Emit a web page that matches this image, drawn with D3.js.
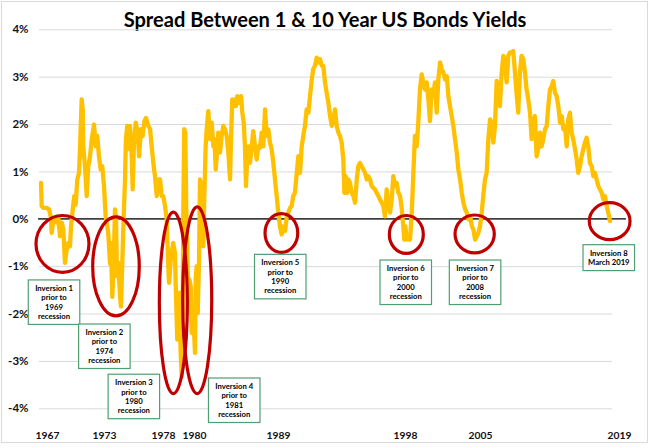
<!DOCTYPE html>
<html>
<head>
<meta charset="utf-8">
<script src="https://cdn.jsdelivr.net/npm/d3@7"></script>
<style>
  body { margin: 0; background: #fff; }
  svg { display: block; font-family: Lato, "Open Sans", sans-serif; }
</style>
</head>
<body>
<div id="chart"></div>
<script>
"use strict";

const chartTitle = "Spread Between 1 & 10 Year US Bonds Yields";

// year labels printed under the chart
const tickYears = [1967, 1973, 1978, 1980, 1989, 1998, 2005, 2019];
const pctTicks = [-4, -3, -2, -1, 0, 1, 2, 3, 4];

// [year, spread in %]
const spreadSeries = [
  [1966.37, 0.76], [1966.44, 0.27], [1966.61, 0.23], [1966.97, 0.23], [1967.21, 0.20],
  [1967.42, 0.02], [1967.49, -0.30], [1967.66, -0.05], [1967.84, 0.02], [1968.02, -0.08],
  [1968.19, 0.02], [1968.37, -0.37], [1968.55, -0.08], [1968.72, -0.23], [1968.89, -0.93],
  [1969.07, -0.65], [1969.24, -0.51], [1969.42, -0.58], [1969.53, -0.16], [1969.71, 0.20],
  [1969.87, 0.48], [1970.02, 0.30], [1970.19, 0.83], [1970.37, 0.97], [1970.47, 1.47],
  [1970.65, 2.52], [1970.76, 2.31], [1970.82, 1.53], [1971.00, 1.11], [1971.18, 0.48],
  [1971.35, 1.11], [1971.53, 1.32], [1971.71, 1.68], [1971.95, 1.99], [1972.13, 1.53],
  [1972.29, 1.75], [1972.47, 1.32], [1972.65, 1.04], [1972.82, 1.11], [1973.00, 0.69],
  [1973.14, 0.05], [1973.23, -0.08], [1973.36, -0.30], [1973.51, -0.95], [1973.59, -0.51],
  [1973.70, -1.65], [1973.82, -1.00], [1973.93, 0.20], [1974.02, -0.01], [1974.10, -1.21],
  [1974.21, -0.93], [1974.36, -1.64], [1974.44, -1.85], [1974.55, -0.93], [1974.67, 0.05],
  [1974.78, 0.83], [1974.86, 1.68], [1974.97, 1.96], [1975.12, 1.47], [1975.20, 1.96],
  [1975.35, 1.32], [1975.43, 0.62], [1975.54, 1.61], [1975.69, 2.03], [1975.86, 1.82],
  [1975.97, 1.32], [1976.14, 1.89], [1976.28, 1.75], [1976.42, 2.06], [1976.56, 2.13],
  [1976.75, 1.96], [1976.90, 1.90], [1977.04, 1.53], [1977.18, 1.18], [1977.32, 0.90],
  [1977.47, 0.48], [1977.61, 0.83], [1977.75, 0.83], [1977.89, 0.48], [1978.02, 0.48],
  [1978.13, 0.27], [1978.24, -0.01], [1978.34, -1.00], [1978.39, -1.35], [1978.52, -0.79],
  [1978.66, -0.51], [1978.77, -0.72], [1978.84, -1.64], [1978.92, -2.55], [1978.99, -1.99],
  [1979.05, -1.56], [1979.14, -2.83], [1979.21, -3.33], [1979.27, -1.99], [1979.31, 0.13],
  [1979.37, 1.89], [1979.44, 1.82], [1979.50, 0.27], [1979.57, -0.58], [1979.63, -1.99],
  [1979.70, -1.28], [1979.79, -1.42], [1979.85, -2.41], [1979.95, -1.99], [1980.11, -2.83],
  [1980.18, -1.28], [1980.29, -1.00], [1980.40, -1.99], [1980.54, -0.86], [1980.64, 0.83],
  [1980.75, 0.69], [1980.89, -0.23], [1981.00, -0.58], [1981.10, 0.41], [1981.25, 1.53],
  [1981.36, 1.89], [1981.53, 2.27], [1981.71, 1.68], [1981.90, 2.03], [1982.07, 1.53],
  [1982.18, 1.68], [1982.33, 1.04], [1982.43, 1.32], [1982.60, 1.82], [1982.79, 1.40],
  [1982.97, 1.75], [1983.14, 1.96], [1983.32, 1.89], [1983.50, 1.75], [1983.68, 1.40],
  [1983.86, 0.83], [1983.96, 1.61], [1984.10, 2.52], [1984.21, 2.38], [1984.39, 2.52],
  [1984.50, 2.38], [1984.64, 2.59], [1984.85, 2.45], [1985.04, 2.59], [1985.18, 2.24],
  [1985.33, 2.03], [1985.46, 1.53], [1985.57, 0.69], [1985.68, 1.18], [1985.82, 1.53],
  [1986.00, 1.18], [1986.18, 1.53], [1986.35, 1.85], [1986.54, 1.53], [1986.72, 1.25],
  [1986.89, 1.53], [1987.07, 1.50], [1987.25, 1.82], [1987.43, 1.53], [1987.61, 2.31],
  [1987.79, 1.75], [1987.96, 1.89], [1988.14, 1.61], [1988.32, 1.47], [1988.50, 1.18],
  [1988.68, 0.83], [1988.86, 0.48], [1989.02, 0.13], [1989.14, -0.16], [1989.26, -0.33],
  [1989.38, -0.16], [1989.50, -0.26], [1989.62, 0.05], [1989.73, 0.13], [1989.85, 0.23],
  [1989.97, 0.27], [1990.08, 0.48], [1990.20, 0.55], [1990.33, 0.97], [1990.44, 1.32],
  [1990.56, 0.97], [1990.68, 1.53], [1990.79, 1.75], [1990.91, 1.96], [1991.03, 2.31],
  [1991.15, 2.24], [1991.27, 2.59], [1991.39, 2.94], [1991.50, 3.16], [1991.62, 3.23],
  [1991.74, 3.40], [1991.86, 3.30], [1991.98, 3.37], [1992.10, 3.23], [1992.21, 3.23],
  [1992.33, 2.88], [1992.45, 2.66], [1992.57, 2.45], [1992.69, 2.17], [1992.81, 1.96],
  [1992.92, 2.10], [1993.04, 2.31], [1993.16, 1.96], [1993.28, 1.82], [1993.39, 1.75],
  [1993.51, 1.61], [1993.63, 1.25], [1993.70, 0.55], [1993.80, 0.90], [1993.89, 0.55],
  [1993.98, 0.83], [1994.10, 0.76], [1994.22, 0.55], [1994.34, 0.48], [1994.46, 0.34],
  [1994.58, 0.83], [1994.69, 1.11], [1994.81, 1.18], [1994.93, 1.11], [1995.05, 1.04],
  [1995.17, 0.97], [1995.29, 0.83], [1995.40, 0.90], [1995.52, 0.83], [1995.64, 0.69],
  [1995.87, 0.62], [1996.11, 0.48], [1996.35, 0.34], [1996.46, 0.27], [1996.58, 0.05],
  [1996.70, 0.62], [1996.82, 0.34], [1996.94, 0.13], [1997.06, 0.41], [1997.17, 0.90],
  [1997.29, 0.69], [1997.41, 0.76], [1997.53, 0.55], [1997.65, 0.48], [1997.77, 0.20],
  [1997.88, -0.16], [1997.95, -0.44], [1998.03, -0.16], [1998.16, -0.44], [1998.31, -0.37],
  [1998.47, -0.44], [1998.63, 0.13], [1998.78, 0.97], [1998.93, 1.75], [1999.09, 1.53],
  [1999.24, 2.03], [1999.40, 2.73], [1999.56, 3.05], [1999.71, 2.88], [1999.87, 2.73],
  [2000.03, 2.88], [2000.18, 2.52], [2000.33, 2.06], [2000.49, 2.73], [2000.64, 2.59],
  [2000.80, 2.88], [2000.96, 2.24], [2001.11, 2.94], [2001.27, 3.30], [2001.43, 3.16],
  [2001.58, 3.09], [2001.74, 2.94], [2001.90, 3.01], [2002.05, 2.59], [2002.20, 2.38],
  [2002.36, 2.17], [2002.51, 1.96], [2002.67, 1.68], [2002.83, 1.40], [2002.98, 1.04],
  [2003.14, 0.83], [2003.30, 0.55], [2003.45, 0.34], [2003.61, 0.20], [2003.77, 0.13],
  [2003.92, -0.01], [2004.08, 0.05], [2004.24, -0.16], [2004.39, -0.23], [2004.54, -0.44],
  [2004.70, -0.37], [2004.84, -0.30], [2005.00, -0.16], [2005.17, 0.13], [2005.33, 0.48],
  [2005.50, 0.83], [2005.67, 0.97], [2005.84, 1.68], [2006.01, 2.10], [2006.18, 2.03],
  [2006.34, 1.61], [2006.51, 1.96], [2006.68, 2.91], [2006.84, 2.59], [2007.01, 2.38],
  [2007.18, 3.09], [2007.35, 3.44], [2007.52, 3.30], [2007.68, 2.88], [2007.85, 3.44],
  [2008.02, 3.51], [2008.19, 3.51], [2008.35, 3.54], [2008.52, 3.09], [2008.68, 2.66],
  [2008.85, 2.24], [2009.02, 3.09], [2009.19, 3.44], [2009.36, 3.37], [2009.53, 3.09],
  [2009.69, 2.73], [2009.86, 2.52], [2010.04, 2.24], [2010.20, 1.68], [2010.36, 1.96],
  [2010.53, 2.17], [2010.70, 1.32], [2010.86, 1.47], [2011.04, 1.82], [2011.21, 1.53],
  [2011.37, 1.68], [2011.55, 1.89], [2011.72, 1.96], [2011.88, 2.38], [2012.05, 2.73],
  [2012.22, 2.80], [2012.38, 2.91], [2012.55, 2.66], [2012.72, 2.59], [2012.89, 2.38],
  [2013.06, 2.03], [2013.23, 2.17], [2013.39, 1.89], [2013.56, 1.96], [2013.73, 1.53],
  [2013.89, 2.10], [2014.06, 2.24], [2014.23, 1.82], [2014.39, 1.68], [2014.57, 1.47],
  [2014.74, 1.25], [2014.89, 0.97], [2015.07, 1.11], [2015.24, 1.32], [2015.40, 1.47],
  [2015.57, 1.61], [2015.74, 1.71], [2015.90, 1.53], [2016.07, 1.18], [2016.25, 1.11],
  [2016.41, 0.90], [2016.58, 0.97], [2016.75, 0.83], [2016.92, 0.69], [2017.09, 0.62],
  [2017.26, 0.55], [2017.42, 0.41], [2017.59, 0.48], [2017.76, 0.27], [2017.92, 0.13],
  [2018.09, -0.05]
];

// inversion episodes: ring spans years from..to and spread high..low,
// note is the text box anchored at [year, spread]
const inversions = [
  { from: 1965.84, to: 1971.42, high: 0.07, low: -1.13, note: [1967.74, -1.76], lines: ["Inversion 1", "prior to", "1969", "recession"] },
  { from: 1971.81, to: 1975.99, high: 0.04, low: -2.05, note: [1973.03, -2.69], lines: ["Inversion 2", "prior to", "1974", "recession"] },
  { from: 1977.69, to: 1979.57, high: 0.14, low: -3.69, note: [1975.53, -3.75], lines: ["Inversion 3", "prior to", "1980", "recession"] },
  { from: 1979.27, to: 1981.90, high: 0.25, low: -3.69, note: [1984.31, -3.83], lines: ["Inversion 4", "prior to", "1981", "recession"] },
  { from: 1987.61, to: 1990.40, high: 0.11, low: -0.71, note: [1989.16, -1.22], lines: ["Inversion 5", "prior to", "1990", "recession"] },
  { from: 1996.89, to: 1999.71, high: 0.07, low: -0.73, note: [1998.07, -1.34], lines: ["Inversion 6", "prior to", "2000", "recession"] },
  { from: 2002.67, to: 2006.44, high: 0.08, low: -0.72, note: [2004.54, -1.34], lines: ["Inversion 7", "prior to", "2008", "recession"] },
  { from: 2016.01, to: 2020.11, high: 0.34, low: -0.44, note: [2017.97, -0.82], lines: ["Inversion 8", "March 2019"] }
];

const width = 650;
const height = 448;
const plot = { left: 39, right: 612, top: 29.3, bottom: 408.3 };

// the year labels are not evenly spaced in the original, so the x scale
// is piecewise linear through them
const tickX = [47, 104, 163, 194, 278, 405, 480, 619];

const x = d3.scaleLinear().domain(tickYears).range(tickX);
const y = d3.scaleLinear().domain([-4, 4]).range([plot.bottom, plot.top]);

const svg = d3.select('#chart')
    .append('svg')
    .attr('width', width)
    .attr('height', height);

// chart border
svg.append('rect')
    .attr('x', 1.5).attr('y', 1.5)
    .attr('width', 646).attr('height', 441)
    .attr('fill', '#fff')
    .attr('stroke', '#d9d9d9');

// title, sized to the width it has in the original
const title = svg.append('text')
    .attr('x', 325)
    .attr('y', 26.7)
    .attr('text-anchor', 'middle')
    .attr('font-weight', 700)
    .attr('font-size', 19)
    .attr('fill', '#000')
    .text(chartTitle);
const titleLen = title.node().getComputedTextLength();
title.attr('font-size', 19 * 403 / titleLen);

// y axis with grid
const yAxis = svg.append('g')
    .attr('transform', `translate(${plot.left},0)`)
    .call(d3.axisLeft(y)
        .tickValues(pctTicks)
        .tickSize(-(plot.right - plot.left))
        .tickPadding(10.5)
        .tickFormat(d => d + '%'));
yAxis.select('.domain').remove();
yAxis.selectAll('.tick line').attr('stroke', '#d9d9d9').attr('stroke-width', 1);
yAxis.selectAll('.tick text')
    .attr('font-family', 'Lato, sans-serif')
    .attr('font-size', 11.5)
    .attr('font-weight', 700)
    .attr('fill', '#111');

// x axis labels
const xAxis = svg.append('g')
    .attr('transform', `translate(0,${plot.bottom})`)
    .call(d3.axisBottom(x)
        .tickValues(tickYears)
        .tickSize(0)
        .tickPadding(23)
        .tickFormat(d3.format('d')));
xAxis.select('.domain').remove();
xAxis.selectAll('.tick text')
    .attr('font-family', 'Lato, sans-serif')
    .attr('font-size', 10.3)
    .attr('font-weight', 700)
    .attr('fill', '#111');

// zero line
svg.append('line')
    .attr('x1', plot.left - 1)
    .attr('x2', plot.right + 14)
    .attr('y1', y(0))
    .attr('y2', y(0))
    .attr('stroke', '#000')
    .attr('stroke-width', 1.2);

// spread line
const line = d3.line()
    .x(d => x(d[0]))
    .y(d => y(d[1]));

svg.append('path')
    .datum(spreadSeries)
    .attr('d', line)
    .attr('fill', 'none')
    .attr('stroke', '#ffc000')
    .attr('stroke-width', 4.3)
    .attr('stroke-linejoin', 'round')
    .attr('stroke-linecap', 'round');

// red rings round each inversion
svg.append('g')
    .selectAll('ellipse')
    .data(inversions)
    .join('ellipse')
    .attr('cx', d => (x(d.from) + x(d.to)) / 2)
    .attr('cy', d => (y(d.high) + y(d.low)) / 2)
    .attr('rx', d => (x(d.to) - x(d.from)) / 2)
    .attr('ry', d => (y(d.low) - y(d.high)) / 2)
    .attr('fill', 'none')
    .attr('stroke', '#c00000')
    .attr('stroke-width', 3.2);

// note boxes
const lineGap = 9.3;
const boxW = 51.5;
const notes = svg.append('g')
    .selectAll('g')
    .data(inversions)
    .join('g')
    .attr('transform', d => `translate(${x(d.note[0])},${y(d.note[1])})`);

notes.append('rect')
    .attr('x', -boxW / 2)
    .attr('y', d => -(d.lines.length * lineGap + 7.3) / 2)
    .attr('width', boxW)
    .attr('height', d => d.lines.length * lineGap + 7.3)
    .attr('fill', '#fff')
    .attr('stroke', '#4e9f72')
    .attr('stroke-width', 1.2);

notes.each(function (d) {
    const n = d.lines.length;
    d3.select(this).selectAll('text')
        .data(d.lines)
        .join('text')
        .attr('x', 0)
        .attr('y', (t, i) => (i - (n - 1) / 2) * lineGap)
        .attr('dy', '0.35em')
        .attr('text-anchor', 'middle')
        .attr('font-size', 7.7)
        .attr('font-weight', 700)
        .attr('fill', '#000')
        .text(t => t);
});
</script>
</body>
</html>
